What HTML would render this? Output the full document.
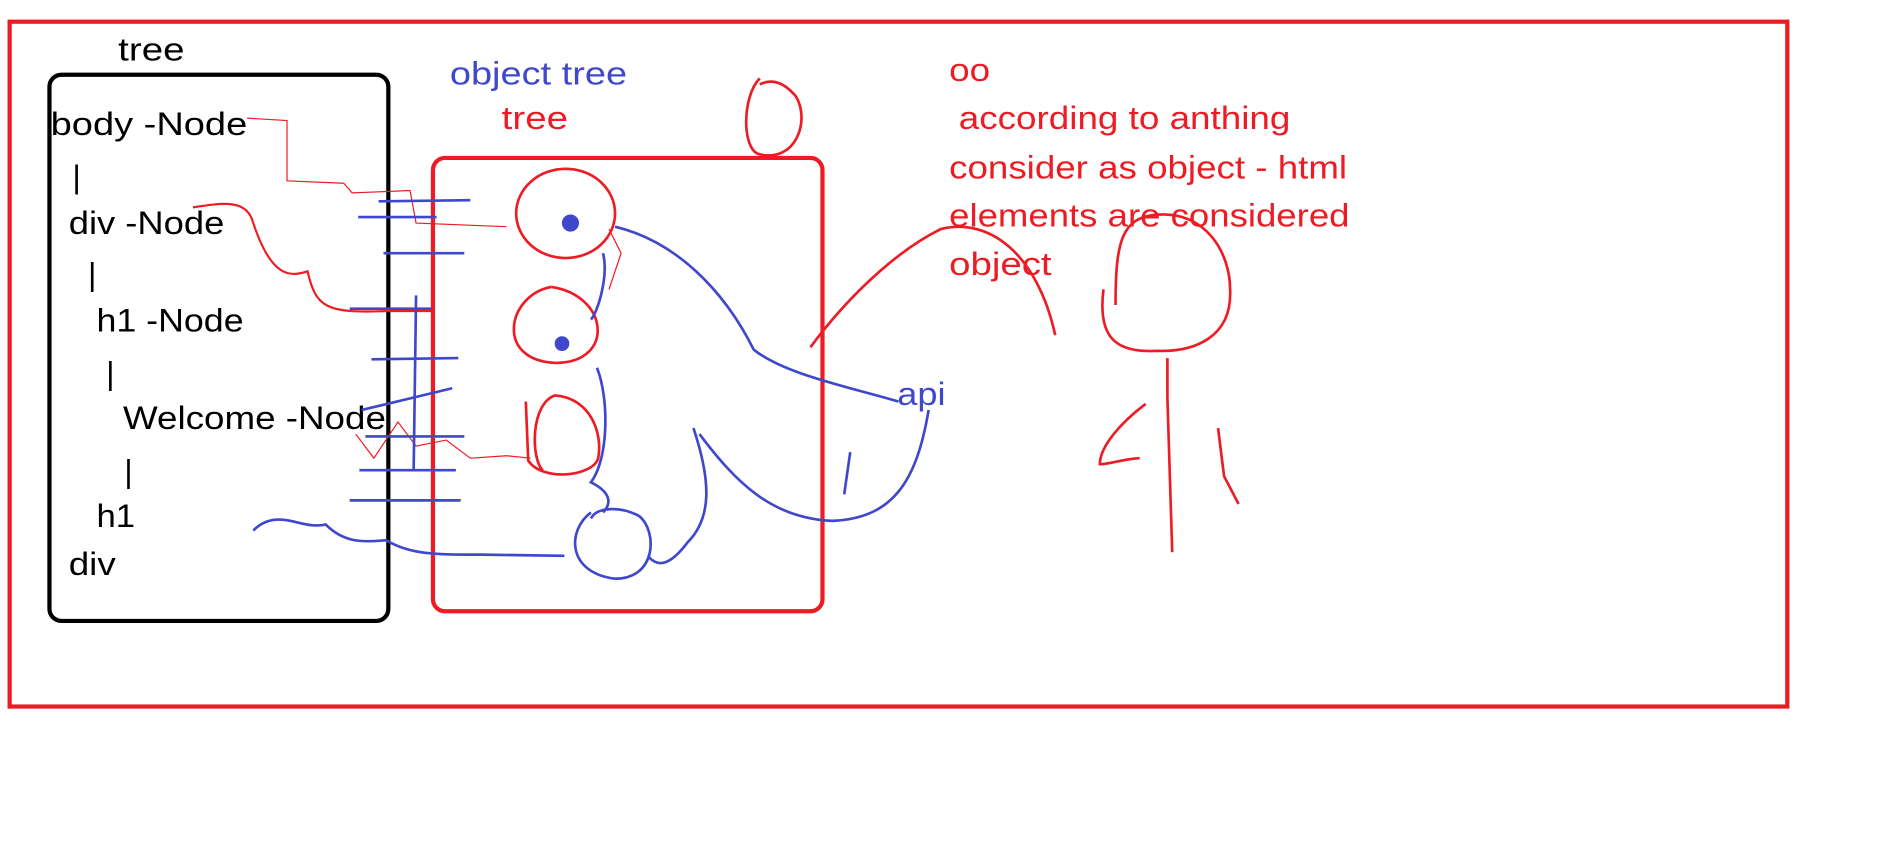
<!DOCTYPE html>
<html><head><meta charset="utf-8"><style>
html,body{margin:0;padding:0;background:#fff;}
svg{display:block;}
text{font-family:"Liberation Sans",sans-serif;font-size:27px;}
</style></head><body>
<svg width="1891" height="844" viewBox="0 0 1568 700" preserveAspectRatio="none" xmlns="http://www.w3.org/2000/svg">
<rect x="8" y="18" width="1474" height="568" fill="none" stroke="#ed1c24" stroke-width="3.5"/>
<rect x="41" y="62" width="281" height="453" rx="10" fill="none" stroke="#000" stroke-width="3.5"/>
<rect x="359" y="131" width="323" height="376" rx="10" fill="none" stroke="#ed1c24" stroke-width="3.5"/>
<g fill="#000">
<text x="98" y="50" textLength="55" lengthAdjust="spacingAndGlyphs">tree</text>
<text x="42" y="112" textLength="163" lengthAdjust="spacingAndGlyphs">body  -Node</text>
<text x="60" y="156">|</text>
<text x="57" y="194" textLength="129" lengthAdjust="spacingAndGlyphs">div -Node</text>
<text x="73" y="237">|</text>
<text x="80" y="275" textLength="122" lengthAdjust="spacingAndGlyphs">h1 -Node</text>
<text x="88" y="319">|</text>
<text x="102" y="356" textLength="218" lengthAdjust="spacingAndGlyphs">Welcome -Node</text>
<text x="103" y="400">|</text>
<text x="80" y="437" textLength="32" lengthAdjust="spacingAndGlyphs">h1</text>
<text x="57" y="477" textLength="39" lengthAdjust="spacingAndGlyphs">div</text>
</g>
<text x="373" y="70" fill="#3f48cc" textLength="147" lengthAdjust="spacingAndGlyphs">object tree</text>
<text x="416" y="107" fill="#ed1c24" textLength="55" lengthAdjust="spacingAndGlyphs">tree</text>
<g fill="#ed1c24">
<text x="787" y="67" textLength="34" lengthAdjust="spacingAndGlyphs">oo</text>
<text x="795" y="107" textLength="275" lengthAdjust="spacingAndGlyphs">according to anthing</text>
<text x="787" y="148" textLength="330" lengthAdjust="spacingAndGlyphs">consider as object - html</text>
<text x="787" y="188" textLength="332" lengthAdjust="spacingAndGlyphs">elements are considered</text>
<text x="787" y="228" textLength="85" lengthAdjust="spacingAndGlyphs">object</text>
</g>
<text x="744" y="336" fill="#3f48cc" textLength="40" lengthAdjust="spacingAndGlyphs">api</text>
<g fill="none" stroke="#ed1c24" stroke-width="2.2">
<ellipse cx="469" cy="177" rx="41" ry="37"/>
<path d="M457 238 C420 245 410 300 462 301 C510 300 505 245 457 238"/>
<path d="M436 333 L438 382 C450 400 492 395 496 380 C500 360 490 330 460 328 C440 335 440 380 450 390"/>
<path d="M630 65 C615 80 615 125 630 128 C660 135 672 100 660 80 C650 68 640 65 630 70"/>
<path d="M672 288 C700 250 740 210 780 190 C820 180 860 210 875 278"/>
<path d="M925 253 C925 200 930 180 960 178 C1000 175 1020 210 1020 240 C1022 280 990 292 960 291 C925 293 910 280 915 240"/>
<path d="M968 297 L968 330 L972 458"/>
<path d="M950 335 C930 350 912 370 912 385 C920 385 935 380 945 380"/>
<path d="M1010 355 L1015 395 L1027 418"/>
<path d="M160 172 C185 168 205 165 210 185 C225 230 240 230 255 225 C262 255 270 260 320 258 L360 258" stroke-width="1.8"/>
<path d="M205 98 L238 100 L238 150 L285 152 L292 160 L340 158 L345 185 L420 188" stroke-width="1"/>
<path d="M295 360 L310 380 L330 350 L345 370 L370 365 L390 380 L420 378 L440 380" stroke-width="1"/>
<path d="M505 190 L515 210 L505 240" stroke-width="1"/>
</g>
<g fill="none" stroke="#3f48cc" stroke-width="2.2">
<path d="M314 167 L390 166 M297 180 L362 180 M318 210 L385 210 M290 256 L358 256 M308 298 L380 297 M300 340 L375 322 M303 362 L385 362 M298 390 L378 390 M290 415 L382 415"/>
<path d="M345 245 L343 390"/>
<path d="M210 440 C230 420 250 440 270 435 C285 450 300 450 320 448 C340 460 360 460 400 460 L468 461"/>
<path d="M510 188 C560 200 600 240 625 290 C650 310 700 320 745 333"/>
<path d="M580 360 C610 400 640 430 690 432 C740 430 760 400 770 340"/>
<path d="M575 355 C590 400 590 430 570 450 C555 470 545 470 538 462"/>
<path d="M490 425 C470 440 470 475 510 480 C545 480 545 440 530 428 C515 420 495 420 490 430"/>
<path d="M495 305 C505 330 505 380 490 400 C510 410 505 420 500 425"/>
<path d="M500 210 C505 230 495 260 490 265"/>
<path d="M705 375 L700 410"/>
<circle cx="473" cy="185" r="6" fill="#3f48cc"/>
<circle cx="466" cy="285" r="5" fill="#3f48cc"/>
</g>
</svg>
</body></html>
